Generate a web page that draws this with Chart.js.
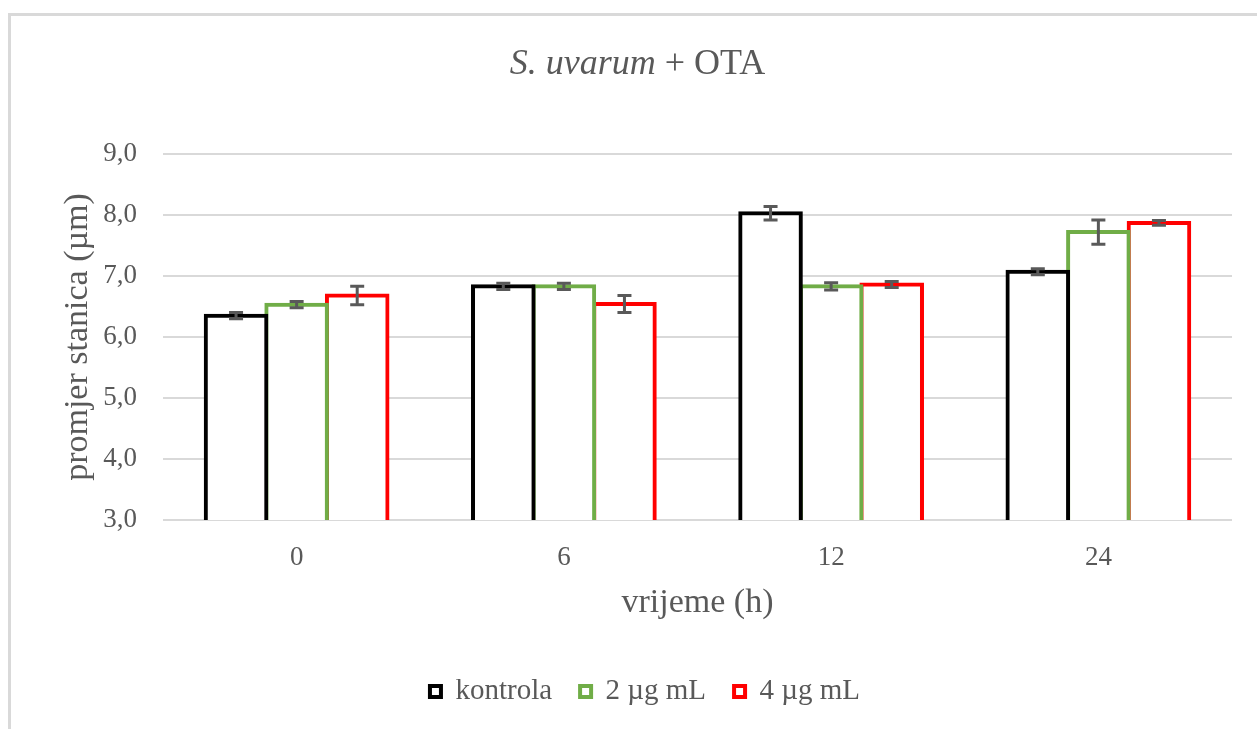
<!DOCTYPE html>
<html>
<head>
<meta charset="utf-8">
<script src="https://cdn.jsdelivr.net/npm/chart.js@4.4.1/dist/chart.umd.min.js"></script>
<style>
    html, body { margin: 0; padding: 0; background: #fff; overflow: hidden; }
    #frame { position: absolute; left: 8px; top: 13px; width: 1300px; height: 800px;
             border-left: 3px solid #d9d9d9; border-top: 3px solid #d9d9d9; }
    #wrap { position: absolute; left: 0; top: 0; width: 1257px; height: 729px; }
</style>
</head>
<body>
<div id="frame"></div>
<div id="wrap"><canvas id="barChart"></canvas></div>
<script>
// data
var times = ["0", "6", "12", "24"];
var seriesNames = ["kontrola", "2 µg mL", "4 µg mL"];
var kontrola = [6.35, 6.83, 8.03, 7.07];
var kontrolaErr = [0.05, 0.05, 0.11, 0.05];
var dose2 = [6.53, 6.83, 6.83, 7.72];
var dose2Err = [0.05, 0.05, 0.06, 0.20];
var dose4 = [6.68, 6.54, 6.86, 7.87];
var dose4Err = [0.15, 0.14, 0.05, 0.04];
var yTickLabels = ["3,0", "4,0", "5,0", "6,0", "7,0", "8,0", "9,0"];

var textGrey = "#595959";
var serif = "'Liberation Serif', 'Times New Roman', serif";
var barColors = ["#000000", "#70ad47", "#ff0000"];

// error bars drawn from the bar elements and the y scale
var errorBars = {
    id: "errorBars",
    afterDatasetsDraw: function (chart) {
        var ctx = chart.ctx;
        var y = chart.scales.y;
        ctx.save();
        ctx.strokeStyle = textGrey;
        ctx.lineWidth = 3;
        chart.data.datasets.forEach(function (ds, di) {
            var meta = chart.getDatasetMeta(di);
            meta.data.forEach(function (bar, i) {
                var top = y.getPixelForValue(ds.data[i] + ds.errors[i]);
                var bot = y.getPixelForValue(ds.data[i] - ds.errors[i]);
                ctx.beginPath();
                ctx.moveTo(bar.x, top);
                ctx.lineTo(bar.x, bot);
                ctx.moveTo(bar.x - 7, top);
                ctx.lineTo(bar.x + 7, top);
                ctx.moveTo(bar.x - 7, bot);
                ctx.lineTo(bar.x + 7, bot);
                ctx.stroke();
            });
        });
        ctx.restore();
    }
};

// title with italic species name
var mixedTitle = {
    id: "mixedTitle",
    afterDraw: function (chart) {
        var ctx = chart.ctx;
        var italic = "italic 36px " + serif;
        var normal = "36px " + serif;
        var p1 = "S. uvarum";
        var p2 = " + OTA";
        ctx.save();
        ctx.fillStyle = textGrey;
        ctx.textBaseline = "alphabetic";
        ctx.font = italic;
        var w1 = ctx.measureText(p1).width;
        ctx.font = normal;
        var w2 = ctx.measureText(p2).width;
        var x0 = chart.width / 2 + 9 - (w1 + w2) / 2;
        ctx.font = italic;
        ctx.fillText(p1, x0, 74);
        ctx.font = normal;
        ctx.fillText(p2, x0 + w1, 74);
        ctx.restore();
    }
};

function makeSet(i, values, errs) {
    return {
        label: seriesNames[i],
        data: values,
        errors: errs,
        backgroundColor: "#ffffff",
        borderColor: barColors[i],
        borderWidth: 4,
        borderSkipped: false,
        inflateAmount: 2,
        barPercentage: 1.0,
        categoryPercentage: 0.68
    };
}

new Chart("barChart", {
    type: "bar",
    data: {
        labels: times,
        datasets: [
            makeSet(0, kontrola, kontrolaErr),
            makeSet(1, dose2, dose2Err),
            makeSet(2, dose4, dose4Err)
        ]
    },
    options: {
        responsive: true,
        maintainAspectRatio: false,
        animation: false,
        layout: {
            padding: { left: 58, right: 25, top: 154, bottom: 13 }
        },
        plugins: {
            legend: {
                position: "bottom",
                labels: {
                    color: textGrey,
                    boxWidth: 11,
                    boxHeight: 11,
                    padding: 28,
                    font: { family: serif, size: 29 }
                }
            },
            title: { display: false },
            tooltip: { enabled: false }
        },
        scales: {
            x: {
                grid: { display: false, drawTicks: false },
                border: { display: false },
                ticks: {
                    color: textGrey,
                    padding: 22,
                    font: { family: serif, size: 27 }
                },
                title: {
                    display: true,
                    text: "vrijeme (h)",
                    color: textGrey,
                    padding: { top: 0, bottom: 26 },
                    font: { family: serif, size: 34 }
                },
                afterFit: function (scale) { scale.height = 129; }
            },
            y: {
                min: 3,
                max: 9,
                grid: { color: "#d9d9d9", lineWidth: 2, drawTicks: false },
                border: { display: false },
                ticks: {
                    stepSize: 1,
                    color: textGrey,
                    padding: 26,
                    font: { family: serif, size: 27 },
                    callback: function (value) { return yTickLabels[value - 3]; }
                },
                title: {
                    display: true,
                    text: "promjer stanica (µm)",
                    color: textGrey,
                    padding: { top: 0, bottom: 0 },
                    font: { family: serif, size: 34 }
                },
                afterFit: function (scale) { scale.width = 105; }
            }
        }
    },
    plugins: [errorBars, mixedTitle]
});
</script>
</body>
</html>
